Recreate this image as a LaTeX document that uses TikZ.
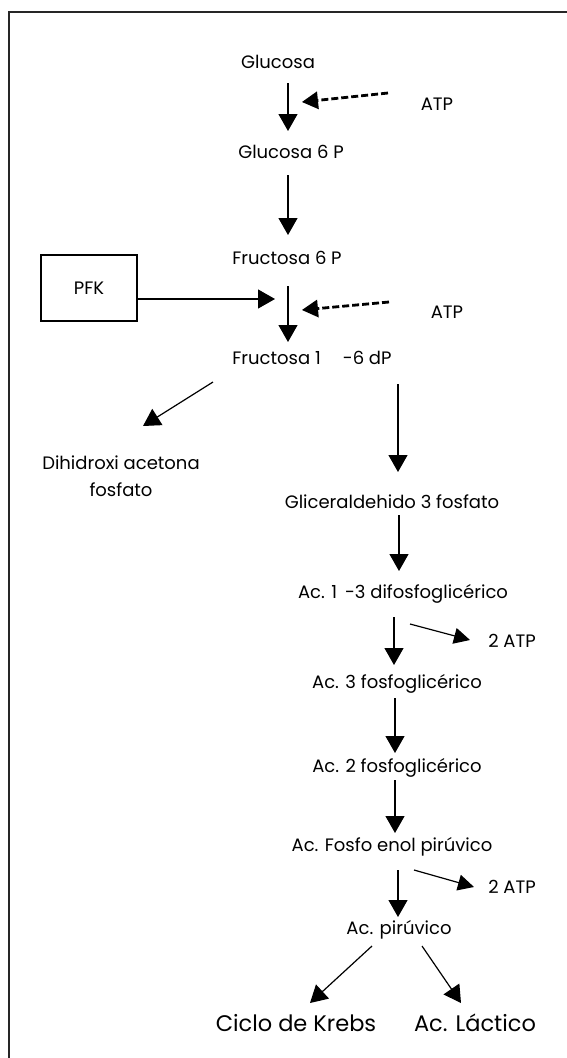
\documentclass[tikz,border=0pt]{standalone}
\usepackage{fontspec}
\setmainfont{Poppins}
\usetikzlibrary{arrows.meta}
\tikzset{
  lbl/.style={inner sep=0pt, font=\fontsize{18}{21}\selectfont},
  biglbl/.style={inner sep=0pt, font=\fontsize{22.5}{26}\selectfont},
  arr/.style={line width=1.2pt, -{Triangle[length=17pt,width=19pt]}},
  sarr/.style={line width=1.2pt, -{Triangle[length=16pt,width=16pt]}},
  darr/.style={line width=2.8pt, dash pattern=on 7pt off 3pt, -{Triangle[length=16pt,width=18pt,line width=0pt]}},
  frame/.style={line width=1.2pt, draw=black!85},
}
\begin{document}
\begin{tikzpicture}[x=1pt,y=-1pt]
\useasboundingbox (0,0) rectangle (567,1058);
\draw[frame] (9,1058) -- (9,12) -- (567,12);
% nodes
\node[lbl] (glu) at (278,62) {Glucosa};
\node[lbl] (atp1) at (437,104) {ATP};
\node[lbl] (g6p) at (291,152) {Glucosa 6 P};
\node[lbl] (f6p) at (287,258) {Fructosa 6 P};
\node[draw, line width=1.2pt, minimum width=96pt, minimum height=66pt, inner sep=0pt] (pfk) at (89,288) {};
\node[lbl] (pfkt) at (89,288) {PFK};
\node[lbl] (atp2) at (447,312) {ATP};
\node[lbl] (f16) at (312,358) {Fructosa 1\hspace{22pt}-6 dP};
\node[lbl, align=center] (dhap) at (121,476) {Dihidroxi acetona\\[6pt]fosfato};
\node[lbl] (gap) at (392,502) {Gliceraldehido 3 fosfato};
\node[lbl] (bpg) at (403,594) {Ac. 1\hspace{8pt}-3 difosfoglic\'erico};
\node[lbl] (atp3) at (512,641) {2 ATP};
\node[lbl] (pg3) at (397,684) {Ac. 3 fosfoglic\'erico};
\node[lbl] (pg2) at (397,768) {Ac. 2 fosfoglic\'erico};
\node[lbl] (pep) at (392,847) {Ac. Fosfo enol pir\'uvico};
\node[lbl] (atp4) at (512,887) {2 ATP};
\node[lbl] (pyr) at (399,930) {Ac. pir\'uvico};
\node[biglbl] (krebs) at (296,1023) {Ciclo de Krebs};
\node[biglbl] (lac) at (475,1023) {Ac. L\'actico};
% helper coordinates
\coordinate (a1s) at (288,83);  \coordinate (a1e) at (288,131);
\coordinate (d1s) at (388,93);  \coordinate (d1e) at (302,102);
\coordinate (a2s) at (288,175); \coordinate (a2e) at (288,235);
\coordinate (pfe) at (275,299);
\coordinate (a3s) at (288,286); \coordinate (a3e) at (288,342);
\coordinate (d2s) at (389,302); \coordinate (d2e) at (302,310);
\coordinate (b1s) at (213,382); \coordinate (b1e) at (143,426);
\coordinate (b2s) at (398,384); \coordinate (b2e) at (398,472);
\coordinate (a4s) at (399,515); \coordinate (a4e) at (399,571);
\coordinate (a5s) at (394,617); \coordinate (a5e) at (394,665);
\coordinate (s1s) at (410,624); \coordinate (s1e) at (470,640);
\coordinate (a6s) at (395,698); \coordinate (a6e) at (395,753);
\coordinate (a7s) at (395,780); \coordinate (a7e) at (395,833);
\coordinate (a8s) at (398,870); \coordinate (a8e) at (398,917);
\coordinate (s2s) at (414,870); \coordinate (s2e) at (474,887);
\coordinate (c1s) at (372,946); \coordinate (c1e) at (310,1003);
\coordinate (c2s) at (422,946); \coordinate (c2e) at (461,1003);
% connectors
\draw[arr] (a1s) -- (a1e);
\draw[darr] (d1s) -- (d1e);
\draw[arr] (a2s) -- (a2e);
\draw[arr] (pfk.east |- pfe) -- (pfe);
\draw[arr] (a3s) -- (a3e);
\draw[darr] (d2s) -- (d2e);
\draw[arr] (b1s) -- (b1e);
\draw[arr] (b2s) -- (b2e);
\draw[arr] (a4s) -- (a4e);
\draw[arr] (a5s) -- (a5e);
\draw[sarr] (s1s) -- (s1e);
\draw[arr] (a6s) -- (a6e);
\draw[arr] (a7s) -- (a7e);
\draw[arr] (a8s) -- (a8e);
\draw[sarr] (s2s) -- (s2e);
\draw[arr] (c1s) -- (c1e);
\draw[arr] (c2s) -- (c2e);
\end{tikzpicture}
\end{document}
